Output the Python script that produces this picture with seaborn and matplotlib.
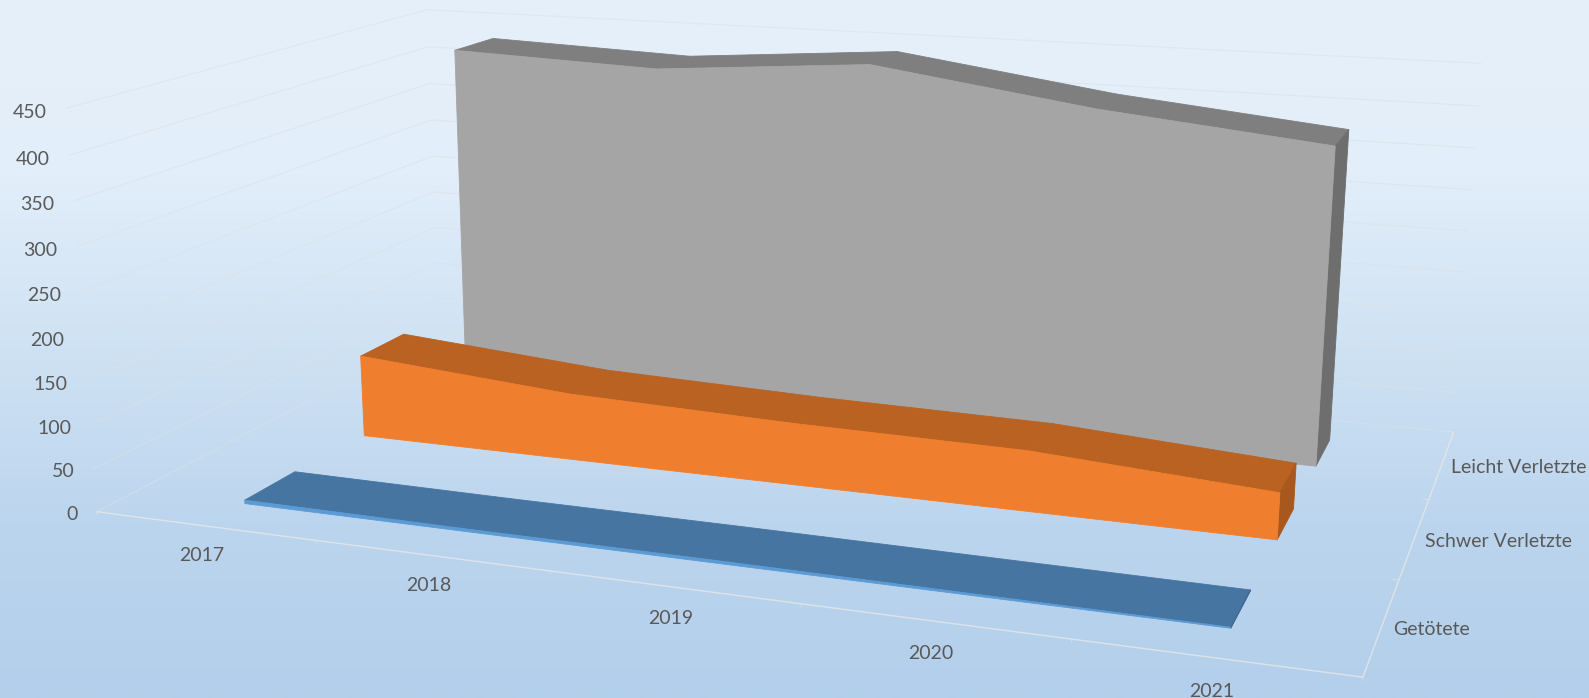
import numpy as np
import matplotlib
matplotlib.use('Agg')
import matplotlib.pyplot as plt
import seaborn as sns
from mpl_toolkits.mplot3d.art3d import Poly3DCollection, Line3DCollection

sns.set_theme(style='white')
plt.rcParams['font.family'] = ['Lato', 'DejaVu Sans']

# Data
years = [2017, 2018, 2019, 2020, 2021]
series = ['Getötete', 'Schwer Verletzte', 'Leicht Verletzte']
getoetete = [4, 3, 3, 2, 1]
schwer = [100, 80, 73, 70, 53]
leicht = [430, 421, 441, 404, 378]
z_ticks = [0, 50, 100, 150, 200, 250, 300, 350, 400, 450]

W, H = 1589, 698
x_lo, x_hi = years[0] - 0.5, years[-1] + 0.5
y_lo, y_hi = -0.5, len(series) - 0.5
ribbon = 0.2

# Camera of the original 3D chart: axis corners and where they sit on the image
cam_world = np.array([
    [x_lo, y_lo, 0], [x_hi, y_lo, 0], [x_hi, y_hi, 0], [x_lo, y_hi, 0],
    [x_lo, y_lo, 450], [x_lo, y_hi, 450], [x_hi, y_hi, 450],
    [x_lo, y_lo, 400], [x_lo, y_hi, 400], [x_hi, y_hi, 400],
    [x_lo, y_hi, 350], [x_hi, y_hi, 350], [x_hi, y_hi, 300],
    [x_lo, y_hi, 200], [x_lo, y_hi, 100]], dtype=float)
cam_pixel = np.array([
    [95, 513], [1363, 676], [1453, 433], [441, 331],
    [67, 108], [427, 9], [1481, 63],
    [70, 155], [428, 47], [1479, 106],
    [428, 84], [1475, 148], [1473, 190],
    [432, 193], [437, 263]], dtype=float)


def fit_camera(world, pixel):
    # plain DLT, gives a 4x4 matrix for mplot3d
    rows, rhs = [], []
    for (x, y, z), (u, v) in zip(world, pixel):
        rows.append([x, y, z, 1, 0, 0, 0, 0, -u * x, -u * y, -u * z])
        rows.append([0, 0, 0, 0, x, y, z, 1, -v * x, -v * y, -v * z])
        rhs += [u, v]
    p = np.linalg.lstsq(np.array(rows), np.array(rhs), rcond=None)[0]
    p = np.append(p, 1).reshape(3, 4)
    return np.array([p[0], p[1], [0, 1, 0, 0], p[2]])


# Background gradient
fig = plt.figure(figsize=(W / 100, H / 100), dpi=100)
bg = fig.add_axes([0, 0, 1, 1])
cmap = sns.blend_palette(['#e6f0f9', '#e2eefa', '#cfe2f3', '#bcd5ee', '#b3cfeb'], as_cmap=True)
bg.imshow(np.linspace(0, 1, 256).reshape(-1, 1), cmap=cmap, aspect='auto')
bg.set_xticks([])
bg.set_yticks([])
bg.set_axis_off()

ax = fig.add_axes([0, 0, 1, 1], projection='3d', computed_zorder=False)
ax.set_xticks([])
ax.set_yticks([])
ax.set_zticks([])
ax.set_axis_off()
ax.patch.set_alpha(0)
M = fit_camera(cam_world, cam_pixel)
ax.get_proj = lambda: M
ax.apply_aspect = lambda position=None: None
ax.viewLim.intervalx = (0, W)
ax.viewLim.intervaly = (H, 0)


def add_lines(segments, color, lw, alpha):
    ax.add_collection3d(Line3DCollection(segments, colors=color, linewidths=lw, alpha=alpha, zorder=1))


# Walls and floor
grid = []
for z in z_ticks:
    grid.append([(x_lo, y_lo, z), (x_lo, y_hi, z), (x_hi, y_hi, z)])
add_lines(grid, '#dde1e4', 0.8, 0.6)
add_lines([[(x_lo, y_lo, 0), (x_hi, y_lo, 0), (x_hi, y_hi, 0)]], '#e8e8e6', 1.0, 0.8)
ticks = [[(x, y_lo, 0), (x, y_lo, -4)] for x in np.arange(x_lo, x_hi + 1)]
ticks += [[(x_hi, y, 0), (x_hi - 0.025, y, 0)] for y in np.arange(y_lo, y_hi + 1)]
add_lines(ticks, '#e6e0d8', 0.8, 0.7)


def add_face(pts, color, zorder):
    ax.add_collection3d(Poly3DCollection([pts], facecolors=color, edgecolors=color,
                                         linewidths=0.6, zorder=zorder))


def draw_ribbon(values, row, front, top, side, zorder):
    yf, yb = row - ribbon, row + ribbon
    # top surface first, then the end cap and the front
    for i in range(len(years) - 1):
        add_face([(years[i], yf, values[i]), (years[i + 1], yf, values[i + 1]),
                  (years[i + 1], yb, values[i + 1]), (years[i], yb, values[i])], top, zorder)
    add_face([(years[-1], yf, 0), (years[-1], yb, 0), (years[-1], yb, values[-1]),
              (years[-1], yf, values[-1])], side, zorder)
    outline = [(x, yf, v) for x, v in zip(years, values)]
    add_face(outline + [(years[-1], yf, 0), (years[0], yf, 0)], front, zorder)


draw_ribbon(leicht, 2, '#a5a5a5', '#7f7f7f', '#6e6e6e', 2)
draw_ribbon(schwer, 1, '#ef7f2e', '#b96222', '#a9581d', 3)
draw_ribbon(getoetete, 0, '#5b9bd5', '#4775a1', '#3f6a93', 4)


def label(x, y, z, text, ha):
    # text goes on the figure at the projected spot
    u, v, _, w = M @ np.array([x, y, z, 1.0])
    fig.text(u / w / W, 1 - v / w / H, text, ha=ha, va='center', color='#595959', fontsize=14)


# Tick labels
for z in z_ticks:
    label(x_lo - 0.09, y_lo, z - 6, str(z), 'right')
for year in years:
    label(year, y_lo - 0.03, -31, str(year), 'center')
for i, name in enumerate(series):
    label(x_hi + 0.04, i, -2, name, 'left')

fig.savefig('out.png', dpi=100)
